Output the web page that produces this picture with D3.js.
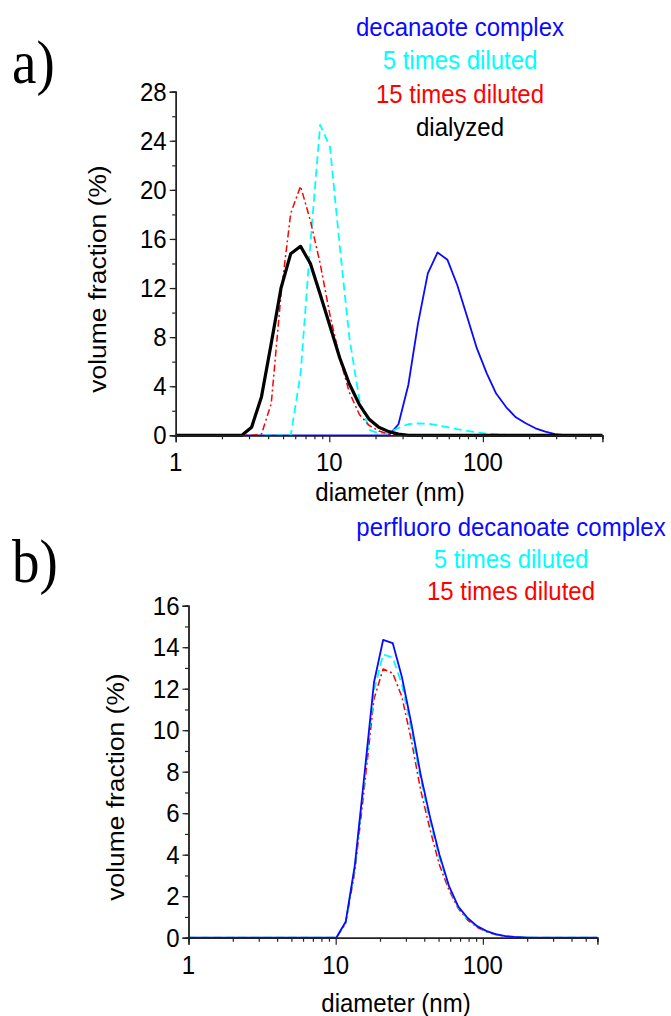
<!DOCTYPE html>
<html>
<head>
<meta charset="utf-8">
<script src="https://cdn.jsdelivr.net/npm/d3@7"></script>
<style>
  html, body { margin: 0; padding: 0; background: #fff; }
  svg text { font-family: "Liberation Sans", Arial, sans-serif; }
</style>
</head>
<body>
<svg id="fig" width="671" height="1016"></svg>
<script>
// Size bins (nm) of the volume distributions; first and last entries close the baseline
const diameters = [1, 2.70, 3.12, 3.62, 4.19, 4.85, 5.61, 6.50, 7.53, 8.72, 10.1, 11.7, 13.5, 15.7, 18.2,
  21.0, 24.4, 28.2, 32.7, 37.8, 43.8, 50.7, 58.8, 68.1, 78.8, 91.3, 106, 122, 142, 164, 190, 220, 255,
  295, 342, 396, 459, 531, 600];

// Panel a: decanoate complex
const decComplex = [0, 0, 0, 0, 0, 0, 0, 0, 0, 0, 0, 0, 0, 0, 0, 0, 0,
  0.9, 4.1, 9.1, 13.2, 14.9, 14.3, 12.25, 9.7, 7.1, 5.05, 3.4, 2.28, 1.47, 0.98, 0.57, 0.3, 0.1, 0.02,
  0, 0, 0, 0];
const dec5x = [0, 0, 0, 0, 0, 0, 0, 5.0, 15.6, 25.3, 23.5, 15.4, 8.0, 2.9, 0.45, 0.15, 0.2,
  0.6, 0.9, 0.97, 0.95, 0.82, 0.66, 0.5, 0.36, 0.24, 0.14, 0.08, 0.04,
  0, 0, 0, 0, 0, 0, 0, 0, 0, 0];
const dec15x = [0, 0, 0, 0.1, 2.6, 11.5, 18.1, 20.3, 17.5, 14.0, 9.8, 6.3, 3.5, 1.7, 0.8, 0.35, 0.1,
  0, 0, 0, 0, 0, 0, 0, 0, 0, 0, 0, 0, 0, 0, 0, 0, 0, 0, 0, 0, 0, 0];
const decDialyzed = [0, 0, 0.65, 3.15, 7.5, 12.0, 14.8, 15.4, 14.0, 11.5, 8.9, 6.3, 4.2, 2.5, 1.3, 0.65, 0.3,
  0.1, 0, 0, 0, 0, 0, 0, 0, 0, 0, 0, 0, 0, 0, 0, 0, 0, 0, 0, 0, 0, 0];

// Panel b: perfluoro decanoate complex
const pfComplex = [0, 0, 0, 0, 0, 0, 0, 0, 0, 0, 0,
  0.77, 3.5, 7.9, 12.3, 14.35, 14.2, 12.55, 10.3, 7.85, 5.8, 4.0, 2.5, 1.5, 0.95, 0.56, 0.32, 0.17, 0.08, 0.04, 0.02,
  0, 0, 0, 0, 0, 0, 0, 0];
const pf5x = [0, 0, 0, 0, 0, 0, 0, 0, 0, 0, 0,
  0.75, 3.4, 7.7, 11.9, 13.65, 13.5, 12.2, 10.0, 7.6, 5.6, 3.85, 2.45, 1.45, 0.9, 0.54, 0.3, 0.16, 0.08, 0.03, 0.01,
  0, 0, 0, 0, 0, 0, 0, 0];
const pf15x = [0, 0, 0, 0, 0, 0, 0, 0, 0, 0, 0,
  0.7, 3.2, 7.3, 11.5, 12.95, 12.75, 11.6, 9.5, 7.1, 5.2, 3.5, 2.3, 1.4, 0.85, 0.5, 0.28, 0.15, 0.07, 0.03, 0,
  0, 0, 0, 0, 0, 0, 0, 0];

const xMajorTicks = [1, 10, 100];
const xMinorTicks = [2, 3, 4, 5, 6, 7, 8, 9, 20, 30, 40, 50, 60, 70, 80, 90, 200, 300, 400, 500, 600];
const xDomain = [1, 600];

const legendA = ["decanaote complex", "5 times diluted", "15 times diluted", "dialyzed"];
const legendB = ["perfluoro decanoate complex", "5 times diluted", "15 times diluted"];

const COLORS = { blue: "#0a0aff", cyan: "#00ffff", red: "#ff0000", black: "#000000" };
const STY = {
  complex: { color: COLORS.blue, width: 1.8, dash: null },
  x5: { color: COLORS.cyan, width: 1.8, dash: "8,4.5" },
  x15: { color: COLORS.red, width: 1.5, dash: "7,3,2,3" },
  dialyzed: { color: COLORS.black, width: 3.2, dash: null }
};

const svg = d3.select("#fig");
const SY = 1.1; // vertical stretch of lettering

function text(g, x, y, str, opts = {}) {
  const t = g.append("text")
    .attr("transform", `translate(${x},${y}) scale(1,${SY})`)
    .attr("text-anchor", opts.anchor || "middle")
    .attr("font-size", opts.size || 24)
    .attr("fill", opts.fill || "#000")
    .text(str);
  if (opts.family) t.style("font-family", opts.family);
  return t;
}

function panel(cfg) {
  const g = svg.append("g");
  const x = d3.scaleLog().domain(xDomain).range([cfg.x0, cfg.x1]);
  const y = d3.scaleLinear().domain([0, cfg.yMax]).range([cfg.y0, cfg.y1]);

  // curves
  const line = d3.line().x((d, i) => x(diameters[i])).y(d => y(d));
  cfg.series.forEach(s => {
    const st = STY[s.style];
    g.append("path")
      .datum(s.values)
      .attr("d", line)
      .attr("fill", "none")
      .attr("stroke", st.color)
      .attr("stroke-width", st.width)
      .attr("stroke-linejoin", "round")
      .attr("stroke-dasharray", st.dash);
  });

  // x axis
  const xAxisMinor = d3.axisBottom(x).tickValues(xMinorTicks).tickSize(4).tickFormat("");
  const xAxisMajor = d3.axisBottom(x).tickValues(xMajorTicks).tickSize(7).tickFormat("");
  [xAxisMinor, xAxisMajor].forEach(ax => {
    const a = g.append("g").attr("transform", `translate(0,${cfg.y0})`).call(ax);
    a.select(".domain").attr("stroke", "#222").attr("stroke-width", 1.4);
    a.selectAll(".tick line").attr("stroke", "#222").attr("stroke-width", 1.2);
  });
  xMajorTicks.forEach(v => text(g, x(v), cfg.y0 + 36, String(v)));
  text(g, cfg.xTitleX, cfg.xTitleY, "diameter (nm)");

  // y axis
  const yMinor = d3.range(0, cfg.yMax + 0.001, cfg.yMinorStep);
  const yMajor = d3.range(0, cfg.yMax + 0.001, cfg.yMajorStep);
  const yAxisMinor = d3.axisLeft(y).tickValues(yMinor).tickSize(3.5).tickFormat("");
  const yAxisMajor = d3.axisLeft(y).tickValues(yMajor).tickSize(6).tickFormat("");
  [yAxisMinor, yAxisMajor].forEach(ax => {
    const a = g.append("g").attr("transform", `translate(${cfg.x0},0)`).call(ax);
    a.select(".domain").attr("stroke", "#222").attr("stroke-width", 1.4);
    a.selectAll(".tick line").attr("stroke", "#222").attr("stroke-width", 1.2);
  });
  yMajor.forEach(v => text(g, cfg.x0 - 9, y(v) + 9, String(v), { anchor: "end" }));

  g.append("text")
    .attr("transform", `translate(${cfg.yTitleX},${cfg.yTitleY}) rotate(-90) scale(${SY},1)`)
    .attr("text-anchor", "middle")
    .attr("font-size", 24)
    .text("volume fraction (%)");

  // legend lines of text
  cfg.legend.forEach((l, i) => text(g, cfg.legX, cfg.legY + i * cfg.legStep, l.label, { fill: l.color }));

  // panel letter
  text(g, 12, cfg.letterY, cfg.letter, { anchor: "start", size: 55, family: "'Liberation Serif', 'Times New Roman', serif" });
}

panel({
  x0: 175.7, x1: 602.4, y0: 435.3, y1: 91.7, yMax: 28, yMajorStep: 4, yMinorStep: 2,
  xTitleX: 390, xTitleY: 501, yTitleX: 106, yTitleY: 279,
  series: [
    { values: decComplex, style: "complex" },
    { values: dec5x, style: "x5" },
    { values: dec15x, style: "x15" },
    { values: decDialyzed, style: "dialyzed" }
  ],
  legend: [
    { label: legendA[0], color: COLORS.blue },
    { label: legendA[1], color: COLORS.cyan },
    { label: legendA[2], color: COLORS.red },
    { label: legendA[3], color: COLORS.black }
  ],
  legX: 460, legY: 36, legStep: 33.3,
  letter: "a)", letterY: 83
});

panel({
  x0: 188.5, x1: 597.4, y0: 937.7, y1: 605.7, yMax: 16, yMajorStep: 2, yMinorStep: 1,
  xTitleX: 396, xTitleY: 1012, yTitleX: 124, yTitleY: 787,
  series: [
    { values: pf15x, style: "x15" },
    { values: pf5x, style: "x5" },
    { values: pfComplex, style: "complex" }
  ],
  legend: [
    { label: legendB[0], color: COLORS.blue },
    { label: legendB[1], color: COLORS.cyan },
    { label: legendB[2], color: COLORS.red }
  ],
  legX: 511, legY: 536, legStep: 32,
  letter: "b)", letterY: 582
});
</script>
</body>
</html>
